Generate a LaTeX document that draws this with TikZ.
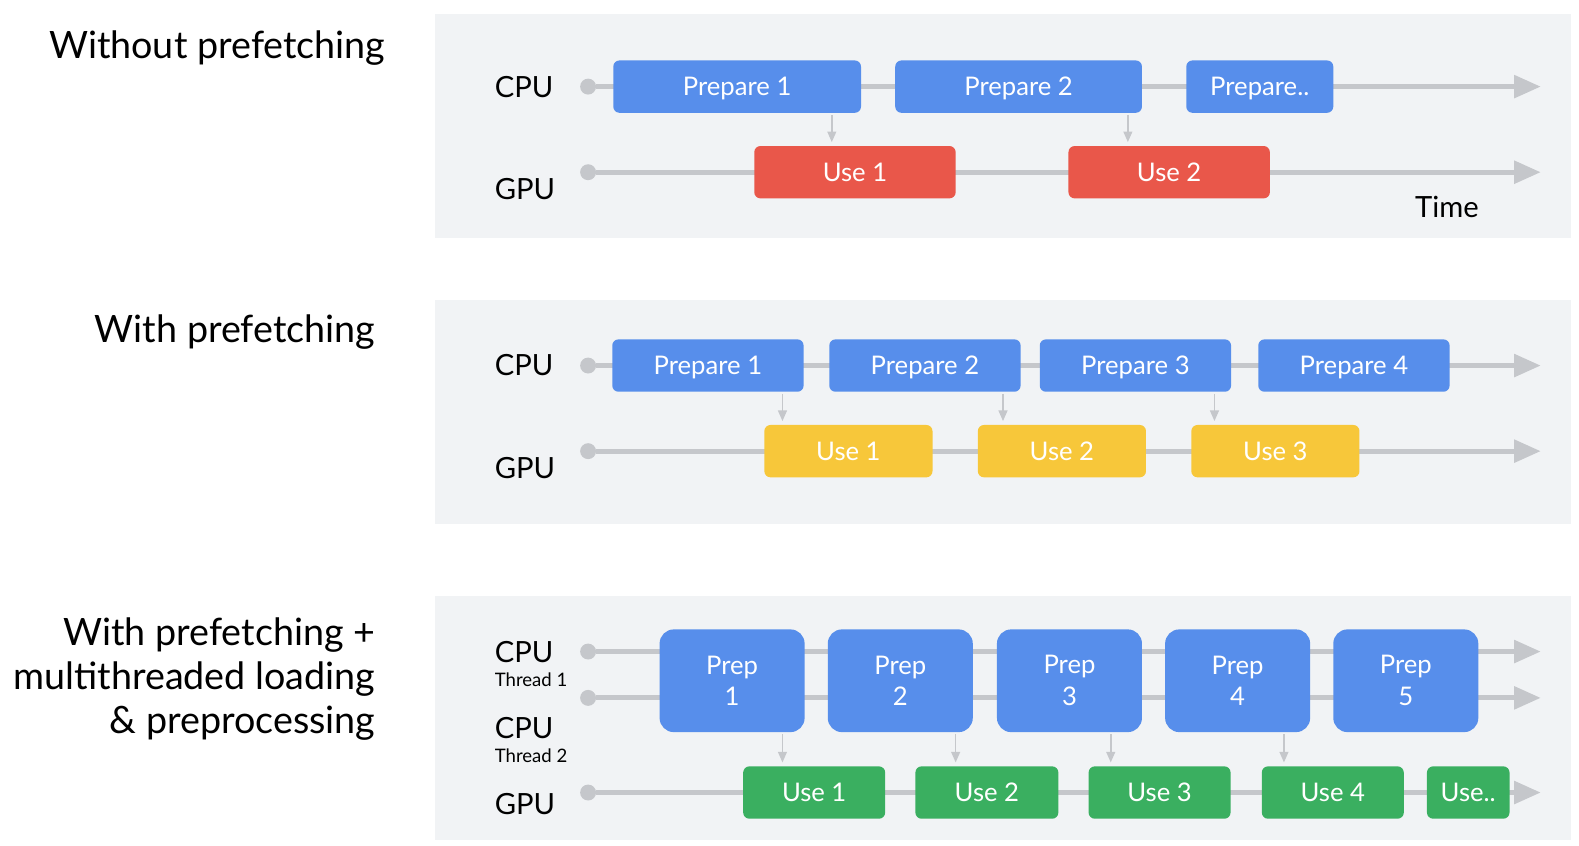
\documentclass[tikz,border=0pt]{standalone}
\usepackage{fontspec}
\setmainfont{Lato}
\usetikzlibrary{arrows.meta}
\definecolor{panelbg}{HTML}{F1F3F5}
\definecolor{linegray}{HTML}{C5C7CB}
\definecolor{prepblue}{HTML}{578EEB}
\definecolor{usered}{HTML}{E9574A}
\definecolor{useyellow}{HTML}{F7C73A}
\definecolor{usegreen}{HTML}{3AAF60}
\tikzset{
  panel/.style={fill=panelbg, draw=none},
  timeline/.style={draw=linegray, line width=2.8pt, -{Triangle[length=15pt,width=12.5pt]}},
  tdot/.style={circle, fill=linegray, inner sep=0pt, minimum size=9pt},
  taskbase/.style={rounded corners=3.5pt, text=white, inner sep=0pt},
  task/.style={taskbase, minimum height=52*0.02cm, text depth=0pt,
    font=\fontsize{14.5}{17}\selectfont},
  prep/.style={task, fill=prepblue},
  bigprep/.style={taskbase, fill=prepblue, rounded corners=8pt, minimum width=144*0.02cm,
    minimum height=102*0.02cm, align=center, font=\fontsize{14.5}{18}\selectfont},
  usered/.style={task, fill=usered},
  useyellow/.style={task, fill=useyellow},
  usegreen/.style={task, fill=usegreen},
  wd/.style={minimum width=#1*0.02cm},
  dep/.style={draw=linegray, line width=0.9pt, -{Triangle[length=6pt,width=5pt]},
    shorten <=1pt, shorten >=2pt},
  heading/.style={font=\fontsize{21.3}{25}\selectfont, inner sep=0pt, align=right},
  lanelabel/.style={font=\fontsize{16.5}{20}\selectfont, inner sep=0pt, anchor=base west},
  thread/.style={font=\fontsize{10.5}{12}\selectfont, inner sep=0pt, anchor=base west}
}

\begin{document}
\begin{tikzpicture}[x=0.02cm, y=-0.02cm]
\useasboundingbox (0,0) rectangle (1568,840);
%
% headings
\node[heading, anchor=base east] (t1) at (383,58) {Without prefetching};
\node[heading, anchor=base east] (t2) at (373,340) {With prefetching};
\node[heading, anchor=north east] (t3) at (373,613) {With prefetching +\\multithreaded loading\\\& preprocessing};
%
\fill[panel] (432,14) rectangle (1560,236);
\fill[panel] (432,298) rectangle (1560,520);
\fill[panel] (432,592) rectangle (1560,834);
%
% without prefetching
\node[lanelabel] (cpu1) at (491,97) {CPU};
\node[lanelabel] (gpu1) at (491,198) {GPU};
\node[lanelabel] (time) at (1405,216) {Time};
\node[tdot] (c1) at (584,86) {};
\node[tdot] (g1) at (584,171) {};
\coordinate (c1e) at (1530,86);
\coordinate (g1e) at (1530,171);
\draw[timeline] (c1) -- (c1e);
\draw[timeline] (g1) -- (g1e);
\foreach \name/\x/\w/\txt in {p11/732/246/Prepare 1, p12/1011.5/245/Prepare 2, p13/1251/146/Prepare..}
  \node[prep, wd=\w] (\name) at (\x,86) {\txt};
\foreach \n/\x in {1/849, 2/1161}
  \node[usered, wd=200] (u1\n) at (\x,171) {Use \n};
\foreach \Source/\Target/\x in {p11/u11/826, p12/u12/1120}
  \draw[dep] (\x,0 |- \Source.south) -- (\x,0 |- \Target.north);
%
% with prefetching
\node[lanelabel] (cpu2) at (491,373) {CPU};
\node[lanelabel] (gpu2) at (491,475) {GPU};
\node[tdot] (c2) at (584,363) {};
\node[tdot] (g2) at (584,448) {};
\coordinate (c2e) at (1530,363);
\coordinate (g2e) at (1530,448);
\draw[timeline] (c2) -- (c2e);
\draw[timeline] (g2) -- (g2e);
\foreach \n/\x in {1/703, 2/918.5, 3/1127.5, 4/1344.5}
  \node[prep, wd=190] (p2\n) at (\x,363) {Prepare \n};
\foreach \n/\x in {1/842.5, 2/1054.5, 3/1266.5}
  \node[useyellow, wd=167] (u2\n) at (\x,448) {Use \n};
\foreach \Source/\Target/\x in {p21/u21/777, p22/u22/996, p23/u23/1206}
  \draw[dep] (\x,0 |- \Source.south) -- (\x,0 |- \Target.north);
%
% with prefetching + multithreading
\node[lanelabel] (cpu3) at (491,658) {CPU};
\node[thread] (th1) at (491,682) {Thread 1};
\node[lanelabel] (cpu4) at (491,733) {CPU};
\node[thread] (th2) at (491,757) {Thread 2};
\node[lanelabel] (gpu3) at (491,809) {GPU};
\node[tdot] (c3) at (584,647) {};
\node[tdot] (c4) at (584,693) {};
\node[tdot] (g3) at (584,787) {};
\coordinate (c3e) at (1530,647);
\coordinate (c4e) at (1530,693);
\coordinate (g3e) at (1530,787);
\draw[timeline] (c3) -- (c3e);
\draw[timeline] (c4) -- (c4e);
\draw[timeline] (g3) -- (g3e);
\foreach \n/\x in {1/727, 2/894, 3/1062, 4/1229, 5/1396}
  \node[bigprep] (p3\n) at (\x,676) {Prep\\\n};
\foreach \n/\x/\w in {1/808.5/141, 2/980/142, 3/1151.5/141, 4/1323.5/141}
  \node[usegreen, wd=\w] (u3\n) at (\x,787) {Use \n};
\node[usegreen, wd=82] (u35) at (1458,787) {Use..};
\foreach \Source/\Target/\x in {p31/u31/777, p32/u32/949, p33/u33/1103, p34/u34/1275}
  \draw[dep] (\x,0 |- \Source.south) -- (\x,0 |- \Target.north);
\end{tikzpicture}
\end{document}
